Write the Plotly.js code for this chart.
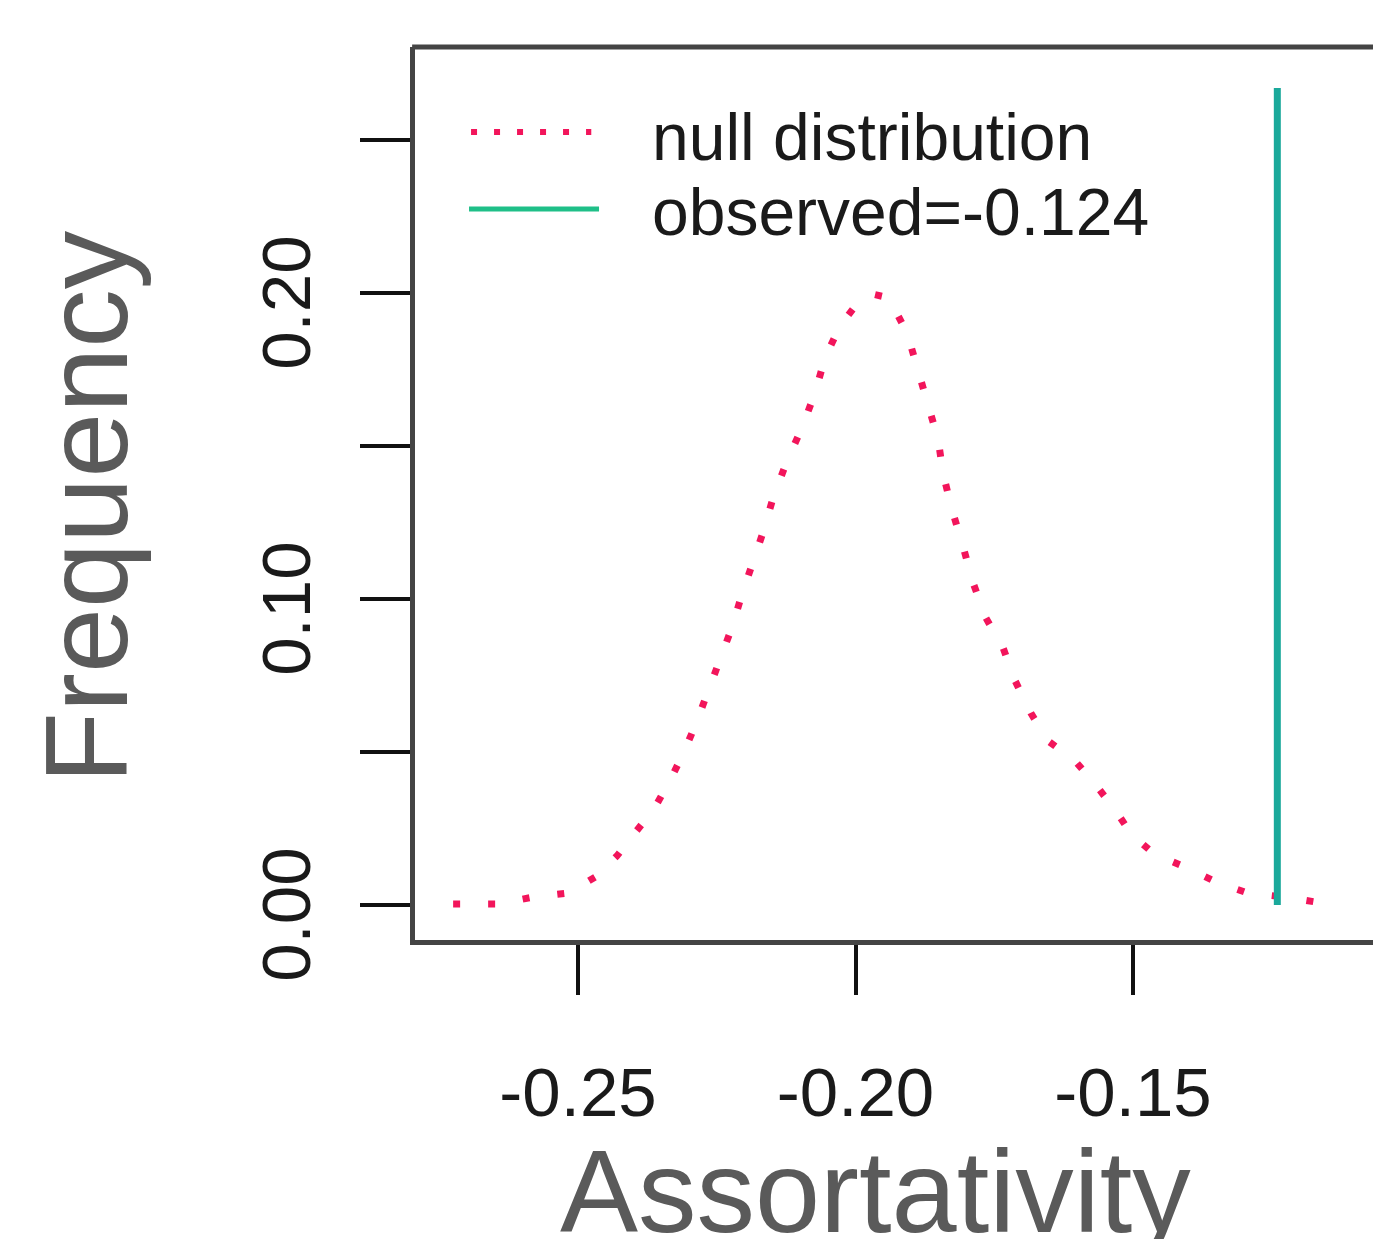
<!DOCTYPE html>
<html>
<head>
<meta charset="utf-8">
<script src="https://cdn.plot.ly/plotly-3.0.1.min.js"></script>
<style>html,body{margin:0;padding:0;background:#ffffff;}</style>
</head>
<body>
<div id="chart" style="width:1373px;height:1239px;"></div>
<script>
// ---- data ----
const nullX = [-0.2725, -0.2646, -0.2581, -0.2518, -0.2468, -0.2430, -0.2399, -0.2363, -0.2334, -0.2309,
               -0.2287, -0.2266, -0.2241, -0.2223, -0.2205, -0.2186, -0.2167, -0.2149, -0.2125, -0.2096,
               -0.2073, -0.2055, -0.2028, -0.1992, -0.1966, -0.1940, -0.1907, -0.1887, -0.1869, -0.1851,
               -0.1842, -0.1826, -0.1806, -0.1788, -0.1765, -0.1734, -0.1713, -0.1684, -0.1653, -0.1606,
               -0.1570, -0.1532, -0.1502, -0.1462, -0.1406, -0.1350, -0.1293, -0.1226, -0.1161];
const nullY = [0.0003, 0.0003, 0.0026, 0.0039, 0.0092, 0.0160, 0.0232, 0.0314, 0.0408, 0.0500,
               0.0595, 0.0699, 0.0807, 0.0905, 0.1013, 0.1111, 0.1216, 0.1327, 0.1444, 0.1562,
               0.1673, 0.1788, 0.1892, 0.1977, 0.1995, 0.1984, 0.1869, 0.1745, 0.1631, 0.1520,
               0.1408, 0.1291, 0.1170, 0.1052, 0.0938, 0.0840, 0.0735, 0.0627, 0.0536, 0.0474,
               0.0399, 0.0310, 0.0229, 0.0167, 0.0124, 0.0075, 0.0039, 0.0026, 0.0007];
const observed = -0.124;
const observedSpan = [0, 0.267];
const xTickVals = [-0.25, -0.20, -0.15];
const xTickText = ['-0.25', '-0.20', '-0.15'];
const yTickVals = [0.00, 0.05, 0.10, 0.15, 0.20, 0.25];
const yTickText = ['0.00', '', '0.10', '', '0.20', ''];
const legendLabels = ['null distribution', 'observed=' + observed];
const xTitle = 'Assortativity';
const yTitle = 'Frequency';

// ---- styles ----
const RED = '#f2155b';
const TEAL = '#1aa99b';
const LEG_GREEN = '#1fbf88';
const BOX = '#444444';
const TICKFONT = {family: 'Liberation Sans, Arial, sans-serif', size: 69, color: '#1a1a1a'};
const TITLEFONT = {family: 'Liberation Sans, Arial, sans-serif', size: 117, color: '#5a5a5a'};
const LEGFONT = {family: 'Liberation Sans, Arial, sans-serif', size: 66, color: '#1a1a1a'};

const traces = [
  {
    x: nullX, y: nullY, type: 'scatter', mode: 'lines', name: legendLabels[0],
    line: {color: RED, width: 7, dash: '7px,28px'}, hoverinfo: 'skip', showlegend: false
  },
  {
    x: [observed, observed], y: observedSpan, type: 'scatter', mode: 'lines', name: legendLabels[1],
    line: {color: TEAL, width: 7}, hoverinfo: 'skip', showlegend: false
  }
];

const layout = {
  width: 1373, height: 1239,
  margin: {l: 415, r: 0, t: 47, b: 299, pad: 0},
  paper_bgcolor: '#ffffff', plot_bgcolor: '#ffffff',
  showlegend: false,
  xaxis: {
    range: [-0.27937, -0.10676], showgrid: false, zeroline: false,
    showline: true, linecolor: BOX, linewidth: 5,
    tickmode: 'array', tickvals: xTickVals, ticktext: xTickText,
    ticks: 'outside', ticklen: 50, tickwidth: 4, tickcolor: '#111111',
    tickfont: TICKFONT, ticklabelstandoff: 38
  },
  yaxis: {
    range: [-0.01144, 0.28039], showgrid: false, zeroline: false,
    showline: true, linecolor: BOX, linewidth: 5,
    tickmode: 'array', tickvals: yTickVals, ticktext: yTickText,
    ticks: 'outside', ticklen: 50, tickwidth: 4, tickcolor: '#111111',
    tickangle: -90, tickfont: TICKFONT, ticklabelstandoff: 22, ticklabelshift: 20
  },
  shapes: [
    {type: 'line', xref: 'paper', yref: 'paper', x0: -0.003, x1: 1.1, y0: 1, y1: 1,
     line: {color: BOX, width: 5}},
    {type: 'line', xref: 'paper', yref: 'paper', x0: 0.0585, x1: 0.1840, y0: 0.9049, y1: 0.9049,
     line: {color: RED, width: 6, dash: '6px,17px'}},
    {type: 'line', xref: 'paper', yref: 'paper', x0: 0.0564, x1: 0.1921, y0: 0.8186, y1: 0.8186,
     line: {color: LEG_GREEN, width: 5}}
  ],
  annotations: [
    {text: legendLabels[0], xref: 'paper', yref: 'paper', x: 0.2453, y: 0.8990,
     xanchor: 'left', yanchor: 'middle', showarrow: false, font: LEGFONT},
    {text: legendLabels[1], xref: 'paper', yref: 'paper', x: 0.2453, y: 0.8150,
     xanchor: 'left', yanchor: 'middle', showarrow: false, font: LEGFONT},
    {text: xTitle, xref: 'paper', yref: 'paper', x: 0.4802, y: -0.2816,
     xanchor: 'center', yanchor: 'middle', showarrow: false, font: TITLEFONT},
    {text: yTitle, xref: 'paper', yref: 'paper', x: -0.3419, y: 0.4849, textangle: -90,
     xanchor: 'center', yanchor: 'middle', showarrow: false, font: TITLEFONT}
  ]
};

Plotly.newPlot('chart', traces, layout, {displayModeBar: false, staticPlot: true});
</script>
</body>
</html>
